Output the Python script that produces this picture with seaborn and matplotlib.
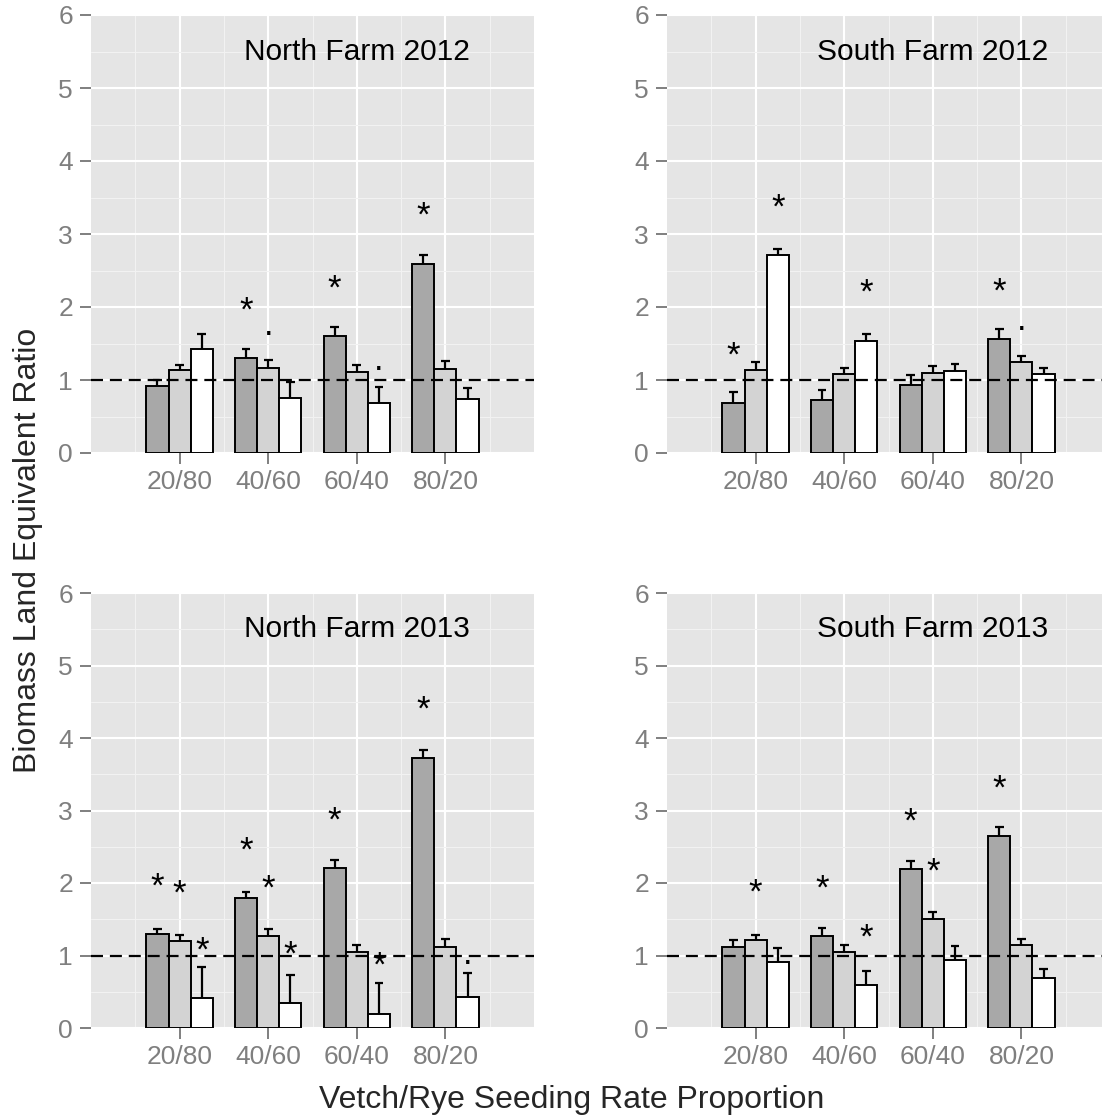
import matplotlib
matplotlib.use("Agg")
import matplotlib.pyplot as plt
import seaborn as sns
import pandas as pd
import numpy as np

categories = ["20/80", "40/60", "60/40", "80/20"]
series = ["s1", "s2", "s3"]
fills = ["#A8A8A8", "#D3D3D3", "#FFFFFF"]

# mean LER per series (rows) and seeding rate (columns)
nf2012_mean = [[0.92, 1.30, 1.60, 2.59],
               [1.14, 1.17, 1.11, 1.15],
               [1.42, 0.75, 0.69, 0.74]]
nf2012_se = [[0.08, 0.12, 0.12, 0.12],
             [0.07, 0.10, 0.10, 0.11],
             [0.21, 0.22, 0.21, 0.15]]
nf2012_sig = [["", "*", "*", "*"],
              ["", ".", "", ""],
              ["", "", ".", ""]]

sf2012_mean = [[0.68, 0.73, 0.93, 1.56],
               [1.14, 1.08, 1.10, 1.24],
               [2.71, 1.54, 1.13, 1.08]]
sf2012_se = [[0.15, 0.13, 0.14, 0.14],
             [0.11, 0.09, 0.09, 0.09],
             [0.09, 0.09, 0.09, 0.09]]
sf2012_sig = [["*", "", "", "*"],
              ["", "", "", "."],
              ["*", "*", "", ""]]

nf2013_mean = [[1.30, 1.79, 2.21, 3.73],
               [1.20, 1.27, 1.05, 1.12],
               [0.41, 0.35, 0.20, 0.43]]
nf2013_se = [[0.07, 0.09, 0.11, 0.10],
             [0.08, 0.09, 0.10, 0.11],
             [0.43, 0.38, 0.42, 0.33]]
nf2013_sig = [["*", "*", "*", "*"],
              ["*", "*", "", ""],
              ["*", "*", "*", "."]]

sf2013_mean = [[1.12, 1.27, 2.19, 2.65],
               [1.21, 1.05, 1.50, 1.14],
               [0.91, 0.59, 0.94, 0.69]]
sf2013_se = [[0.10, 0.11, 0.12, 0.12],
             [0.07, 0.10, 0.10, 0.09],
             [0.19, 0.20, 0.19, 0.13]]
sf2013_sig = [["", "*", "*", "*"],
              ["*", "", "*", ""],
              ["", "*", "", ""]]

titles = ["North Farm 2012", "South Farm 2012", "North Farm 2013", "South Farm 2013"]

GREY = "#7F7F7F"


def draw_panel(ax, title, means, errs, marks):
    rows = []
    for s, name in enumerate(series):
        for c, cat in enumerate(categories):
            rows.append({"rate": cat, "series": name, "ler": means[s][c]})
    df = pd.DataFrame(rows)

    ax.set_facecolor("#E5E5E5")
    ax.set_axisbelow(True)
    sns.barplot(data=df, x="rate", y="ler", hue="series", order=categories,
                hue_order=series, palette=dict(zip(series, fills)), width=0.75,
                edgecolor="black", linewidth=1.4, errorbar=None, legend=False,
                saturation=1, ax=ax, zorder=3)

    for s, cont in enumerate(ax.containers):
        for c, bar in enumerate(cont):
            xc = bar.get_x() + bar.get_width() / 2
            top = bar.get_height()
            hi = top + errs[s][c]
            ax.plot([xc, xc], [top, hi], color="black", lw=1.6, zorder=3.5,
                    solid_capstyle="butt")
            ax.plot([xc - 0.05, xc + 0.05], [hi, hi], color="black", lw=1.6,
                    zorder=3.5, solid_capstyle="butt")
            mark = marks[s][c]
            if mark:
                off = 0.65 if mark == "*" else 0.58
                ax.text(xc, top + off, mark, ha="center", va="center",
                        fontsize=25, color="black", zorder=5)

    ax.axhline(1, color="black", lw=1.6, ls=(0, (5.4, 3.1)), zorder=4)
    ax.text(2, 5.5, title, ha="center", va="center", fontsize=21.5, color="black")

    ax.set_xlim(-1, 4)
    ax.set_ylim(0, 6)
    ax.set_yticks(range(7))
    ax.set_yticks(np.arange(0.5, 6, 1), minor=True)
    ax.set_xticks(np.arange(-0.5, 4, 1), minor=True)
    ax.grid(which="major", color="white", lw=1.5)
    ax.grid(which="minor", color="#F2F2F2", lw=0.8)
    ax.tick_params(which="major", left=True, bottom=True, direction="out",
                   labelsize=19, labelcolor=GREY, color=GREY, length=8, width=1.4)
    ax.tick_params(axis="y", pad=5)
    ax.tick_params(axis="x", pad=4)
    ax.tick_params(which="minor", length=0)
    for sp in ax.spines.values():
        sp.set_visible(False)
    ax.set_xlabel("")
    ax.set_ylabel("")


def main():
    sns.set_style("white")
    plt.rcParams["font.family"] = ["Liberation Sans", "DejaVu Sans"]

    W, H = 1102, 1120
    fig = plt.figure(figsize=(W / 100, H / 100), dpi=100)

    # panel boxes in pixels: left, top, right, bottom
    boxes = [(91, 15, 534, 453), (667, 15, 1110, 453),
             (91, 593, 534, 1028), (667, 593, 1110, 1028)]
    data = [(nf2012_mean, nf2012_se, nf2012_sig),
            (sf2012_mean, sf2012_se, sf2012_sig),
            (nf2013_mean, nf2013_se, nf2013_sig),
            (sf2013_mean, sf2013_se, sf2013_sig)]

    for (l, t, r, b), title, (m, e, sig) in zip(boxes, titles, data):
        ax = fig.add_axes([l / W, 1 - b / H, (r - l) / W, (b - t) / H])
        draw_panel(ax, title, m, e, sig)

    fig.text(28 / W, 1 - 550 / H, "Biomass Land Equivalent Ratio", rotation=90,
             ha="center", va="center", fontsize=23)
    fig.text(572 / W, 1 - 1100 / H, "Vetch/Rye Seeding Rate Proportion",
             ha="center", va="center", fontsize=23)

    fig.savefig("out.png", dpi=100)


if __name__ == "__main__":
    main()
